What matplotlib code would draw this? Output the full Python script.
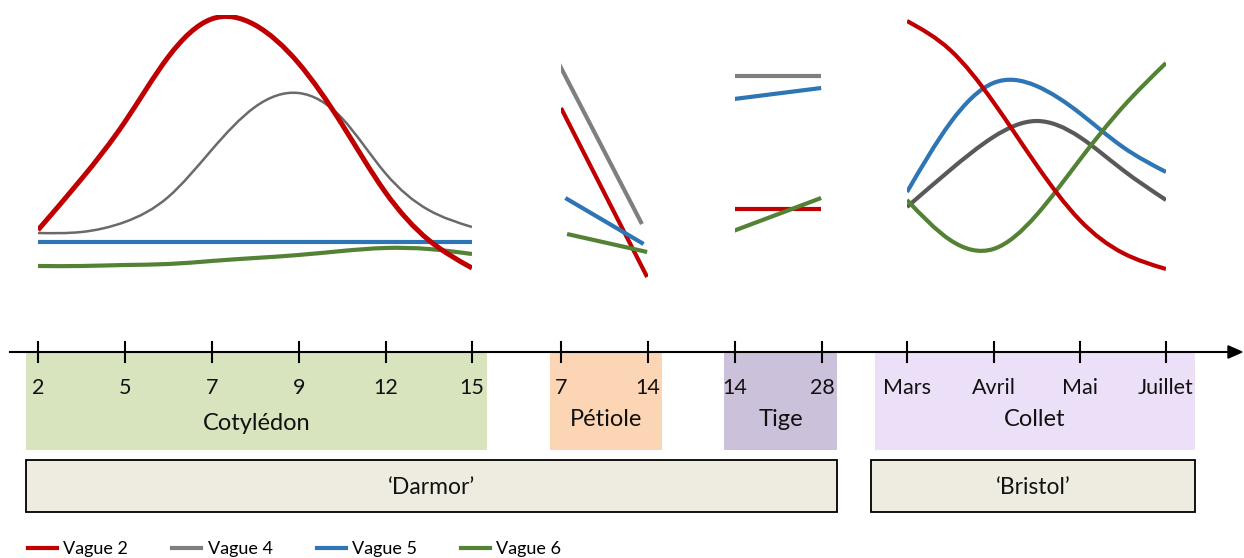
import matplotlib
matplotlib.use("Agg")
import matplotlib.pyplot as plt
import numpy as np
from matplotlib.path import Path
from matplotlib.patches import PathPatch, Rectangle, FancyArrow
from matplotlib.lines import Line2D

plt.rcParams['font.family'] = ['Lato', 'DejaVu Sans']

# ---- data (relative expression, arbitrary units; x in tick-index units) ----
RED, GREY, BLUE, GREEN = '#c00000', '#7f7f7f', '#2e75b6', '#548235'
series_names = ['Vague 2', 'Vague 4', 'Vague 5', 'Vague 6']

# Cotyledon : days 2, 5, 7, 9, 12, 15 (read every half tick)
coty_ticks = ['2', '5', '7', '9', '12', '15']
coty_x = [0, 0.5, 1, 1.5, 2, 2.5, 3, 3.5, 4, 4.5, 5]
coty_red = [55, 106, 163, 228, 266, 260, 222, 161, 93, 45, 17]
coty_grey = [52, 53, 63, 88, 135, 178, 192, 167, 112, 75, 58]
coty_blue = [43, 43, 43, 43, 43, 43, 43, 43, 43, 43, 43]
coty_green = [19, 19, 20, 21, 24, 27, 30, 34, 37, 36, 31]

# Petiole : days 7, 14
peti_ticks = ['7', '14']
peti_red_x, peti_red_y = [0, 0.99], [177, 8]
peti_grey_x, peti_grey_y = [-0.07, 0.93], [229, 61]
peti_blue_x, peti_blue_y = [0.05, 0.95], [87, 41]
peti_green_x, peti_green_y = [0.07, 0.99], [51, 33]

# Tige : days 14, 28
tige_ticks = ['14', '28']
tige_red_x, tige_red_y = [-0.02, 0.99], [76, 76]
tige_grey_x, tige_grey_y = [-0.02, 0.99], [209, 209]
tige_blue_x, tige_blue_y = [-0.01, 0.99], [186, 197]
tige_green_x, tige_green_y = [-0.02, 0.99], [54, 87]

# Collet : months (read every half tick)
coll_ticks = ['Mars', 'Avril', 'Mai', 'Juillet']
coll_x = [0, 0.5, 1, 1.5, 2, 2.5, 3]
coll_red = [264, 235, 183, 120, 65, 32, 16]
coll_blue = [93, 162, 202, 199, 172, 138, 113]
coll_grey = [78, 115, 148, 164, 148, 115, 85]
coll_green = [85, 45, 36, 70, 125, 178, 222]

W, H = 1244, 558
fig = plt.figure(figsize=(W / 100, H / 100), dpi=100)


def fx(px):
    return px / W


def fy(py):
    return 1 - py / H


def smooth(ax, xs, ys, color, lw):
    # smoothed line: natural cubic spline through the points, drawn as Bezier curves
    n = len(xs)
    if n == 2:
        ax.plot(xs, ys, color=color, lw=lw, solid_capstyle='butt')
        return
    x = np.asarray(xs, float)
    y = np.asarray(ys, float)
    h = np.diff(x)
    A = np.zeros((n, n))
    r = np.zeros(n)
    A[0, 0], A[0, 1], r[0] = 2, 1, 3 * (y[1] - y[0]) / h[0]
    A[-1, -2], A[-1, -1], r[-1] = 1, 2, 3 * (y[-1] - y[-2]) / h[-1]
    for i in range(1, n - 1):
        A[i, i - 1] = 1 / h[i - 1]
        A[i, i] = 2 * (1 / h[i - 1] + 1 / h[i])
        A[i, i + 1] = 1 / h[i]
        r[i] = 3 * ((y[i] - y[i - 1]) / h[i - 1] ** 2 + (y[i + 1] - y[i]) / h[i] ** 2)
    m = np.linalg.solve(A, r)
    verts = [(x[0], y[0])]
    codes = [Path.MOVETO]
    for i in range(n - 1):
        d = h[i] / 3
        verts += [(x[i] + d, y[i] + m[i] * d),
                  (x[i + 1] - d, y[i + 1] - m[i + 1] * d),
                  (x[i + 1], y[i + 1])]
        codes += [Path.CURVE4] * 3
    ax.add_patch(PathPatch(Path(verts, codes), fill=False, edgecolor=color,
                           lw=lw, capstyle='butt'))


def panel(x0, x1, xmax):
    # axes whose x=0 sits on the first tick and x=xmax on the last
    ax = fig.add_axes([fx(x0), fy(285), fx(x1) - fx(x0), 270 / H])
    ax.set_xlim(0, xmax)
    ax.set_ylim(0, 270)
    ax.axis('off')
    ax.patch.set_alpha(0)
    return ax


LW = 3.0
ax1 = panel(38, 472, 5)
smooth(ax1, coty_x, coty_grey, '#6a6a6a', 1.8)
smooth(ax1, coty_x, coty_blue, BLUE, LW)
smooth(ax1, coty_x, coty_green, GREEN, LW)
smooth(ax1, coty_x, coty_red, RED, 3.6)

ax2 = panel(561, 648, 1)
for xs, ys, c in [(peti_grey_x, peti_grey_y, GREY), (peti_red_x, peti_red_y, RED),
                  (peti_blue_x, peti_blue_y, BLUE), (peti_green_x, peti_green_y, GREEN)]:
    smooth(ax2, xs, ys, c, LW)

ax3 = panel(735, 822, 1)
for xs, ys, c in [(tige_grey_x, tige_grey_y, GREY), (tige_blue_x, tige_blue_y, BLUE),
                  (tige_red_x, tige_red_y, RED), (tige_green_x, tige_green_y, GREEN)]:
    smooth(ax3, xs, ys, c, LW)

ax4 = panel(907, 1166, 3)
smooth(ax4, coll_x, coll_blue, BLUE, LW)
smooth(ax4, coll_x, coll_grey, '#595959', LW)
smooth(ax4, coll_x, coll_green, GREEN, LW)
smooth(ax4, coll_x, coll_red, RED, LW)

# ---- coloured tissue boxes ----
boxes = [(26, 487, '#d7e4bd', 'Cotylédon', 423),
         (550, 662, '#fcd5b5', 'Pétiole', 419),
         (724, 837, '#ccc1da', 'Tige', 420),
         (875, 1195, '#ece0f8', 'Collet', 420)]
for x0, x1, col, name, ty in boxes:
    fig.patches.append(Rectangle((fx(x0), fy(450)), fx(x1) - fx(x0), fy(352) - fy(450),
                                 transform=fig.transFigure, facecolor=col, edgecolor='none', zorder=0))
    fig.text(fx((x0 + x1) / 2), fy(ty), name, ha='center', va='center', fontsize=17, color='#111111')

# ---- time axis with arrow ----
fig.add_artist(Line2D([fx(10), fx(1232)], [fy(352), fy(352)], color='black', lw=1.5))
fig.patches.append(FancyArrow(fx(1228), fy(352), fx(14), 0, width=0.0,
                              head_width=0.022, head_length=fx(14),
                              length_includes_head=True, color='black',
                              transform=fig.transFigure))

tick_groups = [([38, 125, 212, 299, 386, 472], coty_ticks),
               ([561, 648], peti_ticks),
               ([735, 822], tige_ticks),
               ([907, 994, 1080, 1166], coll_ticks)]
for xs, labels in tick_groups:
    for x, lab in zip(xs, labels):
        fig.add_artist(Line2D([fx(x), fx(x)], [fy(342), fy(362)], color='black', lw=1.5))
        fig.text(fx(x), fy(388), lab, ha='center', va='center', fontsize=15.5, color='#111111')

# ---- cultivar boxes ----
for x0, x1, name in [(26, 837, '\u2018Darmor\u2019'), (871, 1195, '\u2018Bristol\u2019')]:
    fig.patches.append(Rectangle((fx(x0), fy(512)), fx(x1) - fx(x0), fy(460) - fy(512),
                                 transform=fig.transFigure, facecolor='#eeece1',
                                 edgecolor='black', lw=1.3, zorder=0))
    fig.text(fx((x0 + x1) / 2), fy(487), name, ha='center', va='center', fontsize=16.5, color='#111111')

# ---- legend ----
handles = [Line2D([], [], color=c, lw=3) for c in [RED, GREY, BLUE, GREEN]]
fig.legend(handles, series_names, loc='center left', bbox_to_anchor=(fx(28), fy(549)),
           ncol=4, frameon=False, fontsize=13, handlelength=1.6, handletextpad=0.35,
           columnspacing=2.45, borderaxespad=0, borderpad=0)

fig.savefig('out.png', dpi=100)
